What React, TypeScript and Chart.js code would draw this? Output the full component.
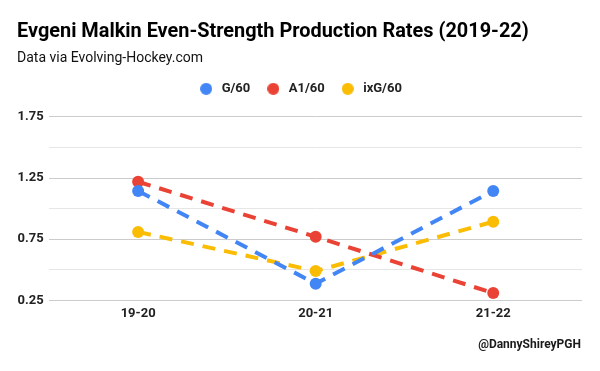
import React, { useEffect, useRef } from "react";
import { Chart, registerables } from "chart.js";

Chart.register(...registerables);

const seasons = ["19-20", "20-21", "21-22"];
const goalsPer60 = [1.145, 0.387, 1.145];
const primaryAssistsPer60 = [1.22, 0.77, 0.31];
const ixGPer60 = [0.81, 0.49, 0.893];
const yTickLabels = [0.25, 0.75, 1.25, 1.75];
const seriesNames = ["G/60", "A1/60", "ixG/60"];
const seriesColors = ["#4285F4", "#EA4335", "#FBBC04"];

const FONT = "Roboto, 'Noto Sans', sans-serif";

function dot(color: string, r: number): HTMLCanvasElement {
  const c = document.createElement("canvas");
  c.width = r * 2;
  c.height = r * 2;
  const g = c.getContext("2d")!;
  g.fillStyle = color;
  g.beginPath();
  g.arc(r, r, r, 0, Math.PI * 2);
  g.fill();
  return c;
}

const footerPlugin = {
  id: "footerText",
  afterDraw(chart: any) {
    const ctx = chart.ctx;
    ctx.save();
    ctx.font = `bold 12px ${FONT}`;
    ctx.fillStyle = "#1a1a1a";
    ctx.textAlign = "right";
    ctx.textBaseline = "middle";
    ctx.fillText("@DannyShireyPGH", 581, 345);
    ctx.restore();
  },
};

const legendGapPlugin = {
  id: "legendGap",
  beforeInit(chart: any) {
    const legend = chart.legend;
    if (!legend) return;
    const orig = legend.fit;
    legend.fit = function () {
      orig.call(this);
      this.height += 11.6;
    };
  },
};

export default function App() {
  const ref = useRef<HTMLCanvasElement | null>(null);
  useEffect(() => {
    if (!ref.current) return;
    const dots = seriesColors.map((c) => dot(c, 6));
    const mk = (label: string, data: number[], color: string) => ({
      label,
      data,
      borderColor: color,
      backgroundColor: color,
      pointBackgroundColor: color,
      pointBorderColor: color,
      borderWidth: 4,
      borderDash: [13, 9],
      pointRadius: 6,
      pointHoverRadius: 6,
      pointBorderWidth: 0,
      tension: 0,
      fill: false,
    });
    const chart = new Chart(ref.current, {
      type: "line",
      data: {
        labels: seasons,
        datasets: [
          mk(seriesNames[0], goalsPer60, seriesColors[0]),
          mk(seriesNames[1], primaryAssistsPer60, seriesColors[1]),
          mk(seriesNames[2], ixGPer60, seriesColors[2]),
        ],
      },
      plugins: [legendGapPlugin, footerPlugin],
      options: {
        animation: false,
        responsive: false,
        layout: { padding: { left: 17, right: 18, top: 0, bottom: 43 } },
        plugins: {
          title: {
            display: true,
            text: "Evgeni Malkin Even-Strength Production Rates (2019-22)",
            align: "start",
            color: "#000",
            font: { family: FONT, size: 19.9, weight: "bold" },
            padding: { top: 20, bottom: 4 },
          },
          subtitle: {
            display: true,
            text: "Data via Evolving-Hockey.com",
            align: "start",
            color: "#111",
            font: { family: FONT, size: 14, weight: "normal" },
            padding: { top: 2.6, bottom: 1 },
          },
          legend: {
            display: true,
            labels: {
              usePointStyle: true,
              pointStyleWidth: 18,
              boxWidth: 18,
              boxHeight: 12,
              padding: 14,
              color: "#222",
              font: { family: FONT, size: 13, weight: "bold" },
              generateLabels: (ch: any) => {
                const items = Chart.defaults.plugins.legend.labels.generateLabels(ch);
                return items.map((it: any, i: number) => ({ ...it, pointStyle: dots[i] }));
              },
            },
          },
          tooltip: { enabled: false },
        },
        scales: {
          x: {
            offset: true,
            grid: { display: false, drawTicks: false },
            border: { display: false },
            ticks: {
              color: "#222",
              font: { family: FONT, size: 13, weight: "bold" },
              padding: 6,
            },
          },
          y: {
            min: 0.25,
            max: 1.75,
            border: { display: false },
            afterFit: (s: any) => {
              s.width -= 5;
            },
            grid: {
              drawTicks: false,
              color: (c: any) => {
                const v = c.tick ? c.tick.value : 0;
                return yTickLabels.some((t) => Math.abs(t - v) < 1e-6) ? "#cccccc" : "#e6e6e6";
              },
            },
            ticks: {
              stepSize: 0.25,
              padding: 5.6,
              color: "#222",
              font: { family: FONT, size: 13, weight: "bold" },
              callback: (v: any) => {
                const n = Number(v);
                return yTickLabels.some((t) => Math.abs(t - n) < 1e-6) ? n.toFixed(2) : "";
              },
            },
          },
        },
      },
    });
    return () => chart.destroy();
  }, []);
  return (
    <div style={{ position: "fixed", left: 0, top: 0, width: 600, height: 371, background: "#fff" }}>
      <canvas ref={ref} width={600} height={371} />
    </div>
  );
}
